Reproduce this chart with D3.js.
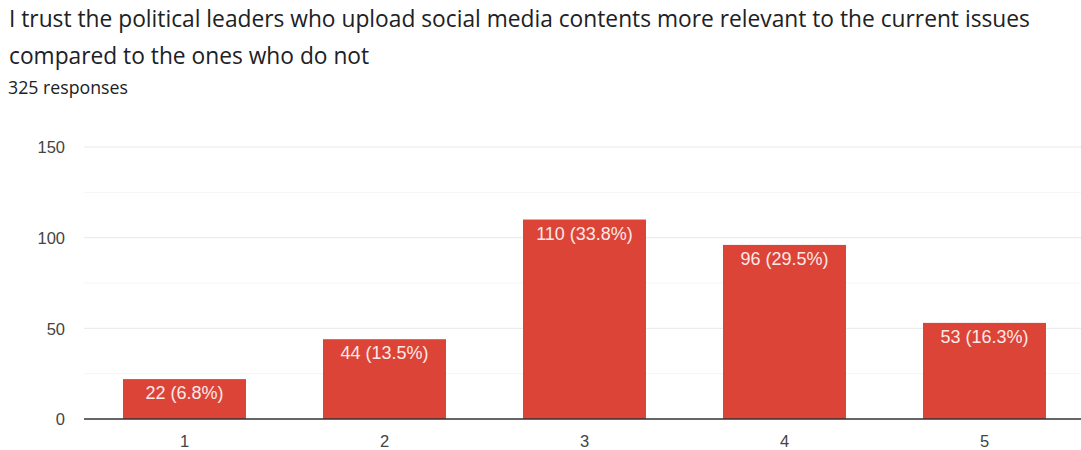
<!DOCTYPE html>
<html><head><meta charset="utf-8">
<script src="https://cdn.jsdelivr.net/npm/d3@7"></script>
<style>body{margin:0;background:#fff;}svg{display:block;}</style>
</head><body>
<svg id="c" width="1081" height="450"></svg>
<script>
const titleLines = ["I trust the political leaders who upload social media contents more relevant to the current issues", "compared to the ones who do not"];
const subtitle = "325 responses";
const categories = ["1", "2", "3", "4", "5"];
const counts = [22, 44, 110, 96, 53];
const percents = ["6.8%", "13.5%", "33.8%", "29.5%", "16.3%"];
const yTicks = [0, 50, 100, 150];
const yMinorTicks = [25, 75, 125];

const svg = d3.select("#c");
const titleFont = "'Open Sans', Roboto, sans-serif";
const font = "'Liberation Sans', Arial, Roboto, sans-serif";

const titles = svg.selectAll("text.title").data(titleLines).join("text")
  .attr("class", "title")
  .attr("x", 9).attr("y", (d, i) => 27 + i * 37)
  .attr("font-family", titleFont).attr("font-size", 20).attr("fill", "#202124").text(d => d);
// fit title size to reference line width
const w0 = titles.node().getComputedTextLength();
titles.attr("font-size", 20 * 1021 / w0);

const sub = svg.append("text").attr("x", 8).attr("y", 94).attr("font-family", titleFont)
  .attr("font-size", 15).attr("fill", "#202124").text(subtitle);
const ws = sub.node().getComputedTextLength();
sub.attr("font-size", 15 * 120 / ws);

const x = d3.scaleBand().domain(categories).range([84.5, 1084.5]).paddingInner(0.385).paddingOuter(0.1925);
const y = d3.scaleLinear().domain([0, 150]).range([419, 147]);

const g = svg.append("g");
g.selectAll("line.minor").data(yMinorTicks).join("line")
  .attr("x1", 84).attr("x2", 1081).attr("y1", d => y(d)).attr("y2", d => y(d))
  .attr("stroke", "#f5f5f5").attr("stroke-width", 1);
g.selectAll("line.major").data(yTicks.filter(d => d > 0)).join("line")
  .attr("x1", 84).attr("x2", 1081).attr("y1", d => y(d)).attr("y2", d => y(d))
  .attr("stroke", "#e8e8e8").attr("stroke-width", 1);

const yAxis = d3.axisLeft(y).tickValues(yTicks).tickSize(0).tickPadding(0);
const ya = svg.append("g").attr("transform", "translate(65,0)").call(yAxis);
ya.select(".domain").remove();
ya.selectAll("text").attr("font-family", font).attr("font-size", 16.5).attr("fill", "#444").attr("dy", "0.35em");

g.selectAll("rect.bar").data(counts).join("rect")
  .attr("x", (d, i) => x(categories[i])).attr("width", x.bandwidth())
  .attr("y", d => y(d)).attr("height", d => y(0) - y(d)).attr("fill", "#db4437");

g.selectAll("text.lbl").data(counts).join("text")
  .attr("x", (d, i) => x(categories[i]) + x.bandwidth() / 2).attr("y", d => y(d) + 20)
  .attr("text-anchor", "middle").attr("font-family", font).attr("font-size", 18)
  .attr("fill", "#fbe9e7").text((d, i) => `${d} (${percents[i]})`);

const xAxis = d3.axisBottom(x).tickSize(0).tickPadding(0);
const xa = svg.append("g").attr("transform", "translate(0,419)").call(xAxis);
xa.select(".domain").attr("d", "M84,0H1081").attr("stroke", "#333").attr("stroke-width", 1.5);
xa.selectAll("text").attr("font-family", font).attr("font-size", 16.5).attr("fill", "#444").attr("dy", "0").attr("y", 28);
</script>
</body></html>
